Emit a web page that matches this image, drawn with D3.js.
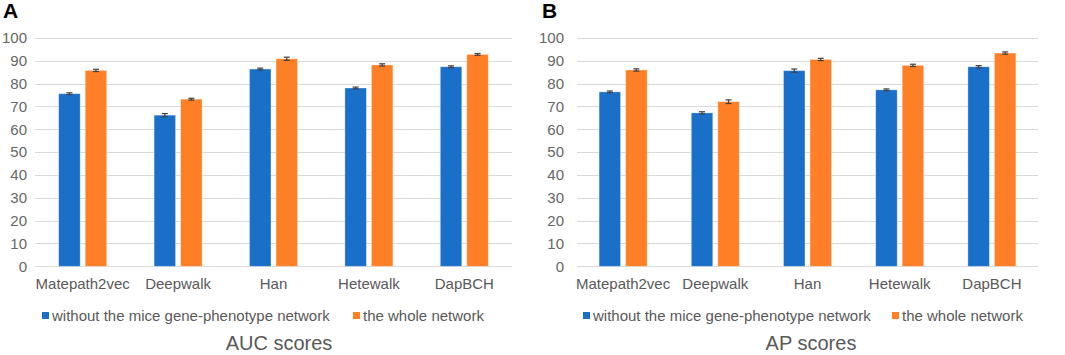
<!DOCTYPE html>
<meta charset="utf-8">
<script src="https://d3js.org/d3.v7.min.js"></script>
<style>
  body { margin: 0; background: #fff; }
  text { font-family: "Liberation Sans", Arial, sans-serif; }
</style>
<body>
<div id="chart"></div>
<script>
// categories and series
var methods = ["Matepath2vec", "Deepwalk", "Han", "Hetewalk", "DapBCH"];
var seriesNames = ["without the mice gene-phenotype network", "the whole network"];
var yTicks = [0, 10, 20, 30, 40, 50, 60, 70, 80, 90, 100];

// AUC scores (panel A)
var aucWithout = [75.6, 66.2, 86.4, 78.1, 87.4];
var aucWhole   = [85.8, 73.2, 90.9, 88.2, 92.8];
var aucWithoutErr = [0.4, 0.7, 0.4, 0.4, 0.4];
var aucWholeErr   = [0.5, 0.4, 0.7, 0.5, 0.4];

// AP scores (panel B)
var apWithout = [76.4, 67.2, 85.7, 77.3, 87.4];
var apWhole   = [86.0, 72.1, 90.6, 88.0, 93.4];
var apWithoutErr = [0.4, 0.5, 0.7, 0.4, 0.5];
var apWholeErr   = [0.5, 0.8, 0.5, 0.5, 0.5];

var colors = ["#1a70c9", "#ff7f27"];

var svg = d3.select("#chart").append("svg")
  .attr("width", 1065).attr("height", 355);

function drawPanel(opt) {
  var g = svg.append("g");

  var y = d3.scaleLinear().domain([0, 100]).range([266.3, 38]);
  var x = d3.scaleBand().domain(methods).range([opt.x0, opt.x1]);
  var xs = d3.scaleBand().domain([0, 1]).range([-24, 24]).paddingInner(0.19);

  // gridlines
  g.selectAll(".grid").data(yTicks).enter().append("line")
    .attr("x1", opt.x0).attr("x2", opt.x1)
    .attr("y1", function(d) { return Math.round(y(d)) + 0.5; })
    .attr("y2", function(d) { return Math.round(y(d)) + 0.5; })
    .attr("stroke", "#d9d9d9").attr("stroke-width", 1);

  // y tick labels
  g.selectAll(".ytick").data(yTicks).enter().append("text")
    .attr("x", opt.x0 - opt.tickGap)
    .attr("y", function(d) { return y(d); })
    .attr("dy", "0.35em")
    .attr("text-anchor", "end")
    .style("font-size", "15px").style("fill", "#666666")
    .text(function(d) { return d; });

  var rows = [];
  methods.forEach(function(m, i) {
    rows.push({m: m, s: 0, v: opt.without[i], e: opt.withoutErr[i]});
    rows.push({m: m, s: 1, v: opt.whole[i], e: opt.wholeErr[i]});
  });

  function bx(d) { return x(d.m) + x.bandwidth() / 2 + xs(d.s); }

  g.selectAll(".bar").data(rows).enter().append("rect")
    .attr("x", bx)
    .attr("y", function(d) { return y(d.v); })
    .attr("width", xs.bandwidth())
    .attr("height", function(d) { return y(0) - y(d.v); })
    .attr("fill", function(d) { return colors[d.s]; })
    .attr("stroke", "#ffffff").attr("stroke-opacity", 0.4).attr("stroke-width", 0.8);

  // error bars
  var eb = g.selectAll(".err").data(rows).enter().append("g")
    .attr("stroke", "#404040").attr("stroke-width", 1.2);
  eb.append("line")
    .attr("x1", function(d) { return bx(d) + xs.bandwidth() / 2; })
    .attr("x2", function(d) { return bx(d) + xs.bandwidth() / 2; })
    .attr("y1", function(d) { return y(d.v + d.e); })
    .attr("y2", function(d) { return y(d.v - d.e); });
  [1, -1].forEach(function(sg) {
    eb.append("line")
      .attr("x1", function(d) { return bx(d) + xs.bandwidth() / 2 - 3; })
      .attr("x2", function(d) { return bx(d) + xs.bandwidth() / 2 + 3; })
      .attr("y1", function(d) { return y(d.v + sg * d.e); })
      .attr("y2", function(d) { return y(d.v + sg * d.e); });
  });

  // category labels
  g.selectAll(".xlab").data(methods).enter().append("text")
    .attr("x", function(d) { return x(d) + x.bandwidth() / 2; })
    .attr("y", 288.5)
    .attr("text-anchor", "middle")
    .style("font-size", "15px").style("fill", "#595959")
    .text(function(d) { return d; });

  // legend
  var lg = g.append("g");
  seriesNames.forEach(function(name, i) {
    lg.append("rect")
      .attr("x", opt.legendX[i]).attr("y", 312)
      .attr("width", 7).attr("height", 7)
      .attr("fill", colors[i]);
    lg.append("text")
      .attr("x", opt.legendX[i] + 10).attr("y", 315.5)
      .attr("dy", "0.35em")
      .style("font-size", "15px").style("fill", "#595959")
      .text(name);
  });

  // title
  g.append("text")
    .attr("x", opt.titleX).attr("y", 350)
    .attr("text-anchor", "middle")
    .style("font-size", "20px").style("fill", "#595959")
    .text(opt.title);

  // panel letter
  g.append("text")
    .attr("x", opt.letterX).attr("y", 18)
    .style("font-size", "21px").style("font-weight", "bold").style("fill", "#000")
    .text(opt.letter);
}

drawPanel({
  x0: 35, x1: 512, tickGap: 8,
  without: aucWithout, whole: aucWhole,
  withoutErr: aucWithoutErr, wholeErr: aucWholeErr,
  legendX: [42, 353], titleX: 279, title: "AUC scores",
  letter: "A", letterX: 3
});

drawPanel({
  x0: 577, x1: 1038, tickGap: 13,
  without: apWithout, whole: apWhole,
  withoutErr: apWithoutErr, wholeErr: apWholeErr,
  legendX: [583, 892], titleX: 811, title: "AP scores",
  letter: "B", letterX: 542
});
</script>
</body>
